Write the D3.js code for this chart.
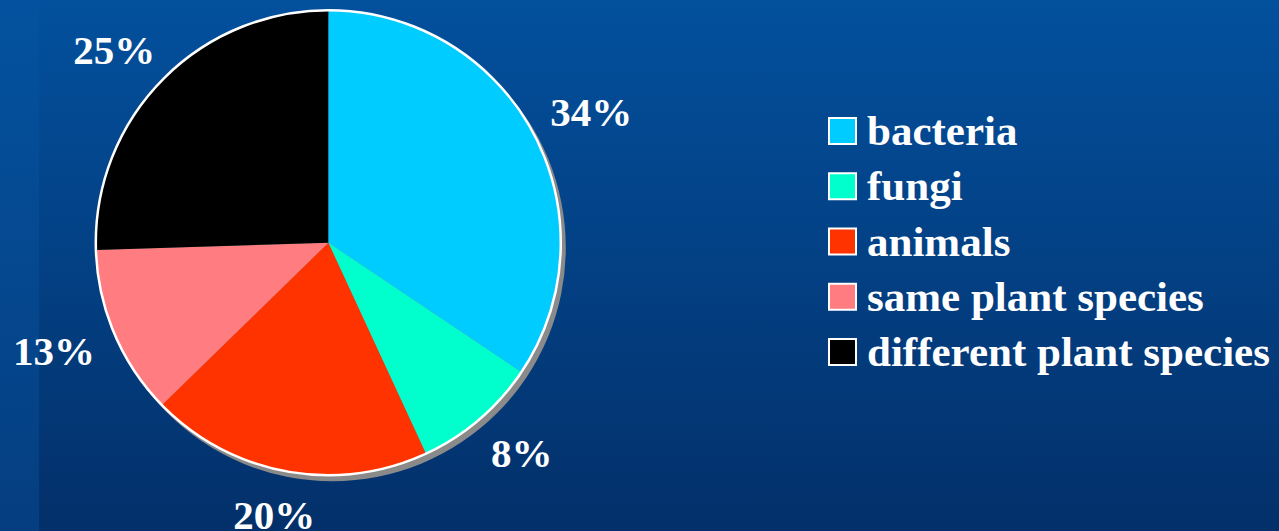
<!DOCTYPE html>
<html>
<head>
<meta charset="utf-8">
<script src="https://cdn.jsdelivr.net/npm/d3@7"></script>
<style>
  html, body { margin: 0; padding: 0; background: #033a78; }
  svg { display: block; }
</style>
</head>
<body>
<svg id="chart" width="1279" height="531"></svg>
<script>
// ---- data ----
const categories = ["bacteria", "fungi", "animals", "same plant species", "different plant species"];
const sliceValues = [34.4, 8.7, 19.6, 11.8, 25.5];      // angular shares
const labelTexts  = ["34%", "8%", "20%", "13%", "25%"]; // labels printed next to slices
const sliceColors = ["#00ccff", "#00ffcc", "#ff3300", "#ff7c80", "#000000"];

const W = 1279, H = 531;
const svg = d3.select("#chart");

// background gradients
const defs = svg.append("defs");
const g1 = defs.append("linearGradient").attr("id", "bg").attr("x1", 0).attr("y1", 0).attr("x2", 0).attr("y2", 1);
g1.append("stop").attr("offset", "0%").attr("stop-color", "#03509d");
g1.append("stop").attr("offset", "100%").attr("stop-color", "#03306a");
const g2 = defs.append("linearGradient").attr("id", "bgl").attr("x1", 0).attr("y1", 0).attr("x2", 0).attr("y2", 1);
g2.append("stop").attr("offset", "0%").attr("stop-color", "#04529f");
g2.append("stop").attr("offset", "100%").attr("stop-color", "#053e80");
svg.append("rect").attr("width", W).attr("height", H).attr("fill", "url(#bg)");
svg.append("rect").attr("width", 39).attr("height", H).attr("fill", "url(#bgl)");

// pie
const cx = 328.3, cy = 242.7, r = 232.5;
const pie = d3.pie().sort(null).value(d => d)(sliceValues);
const arc = d3.arc().innerRadius(0).outerRadius(r);

const g = svg.append("g").attr("transform", `translate(${cx},${cy})`);
// shadow
g.append("circle").attr("cx", 4).attr("cy", 5).attr("r", r + 1).attr("fill", "#8a8a8a");
g.selectAll("path.slice").data(pie).join("path")
  .attr("class", "slice")
  .attr("d", arc)
  .attr("fill", (d, i) => sliceColors[i]);
g.append("circle").attr("r", r).attr("fill", "none").attr("stroke", "#ffffff").attr("stroke-width", 2.5);

// labels outside slices (placed on an ellipse around the pie)
const labelRx = 298, labelRy = 277;
g.selectAll("text.lbl").data(pie).join("text")
  .attr("class", "lbl")
  .style("font", "bold 41px 'Liberation Serif', 'Times New Roman', serif")
  .attr("fill", "#ffffff")
  .attr("text-anchor", "middle")
  .attr("dominant-baseline", "central")
  .attr("x", d => labelRx * Math.sin((d.startAngle + d.endAngle) / 2))
  .attr("y", d => -labelRy * Math.cos((d.startAngle + d.endAngle) / 2))
  .text((d, i) => labelTexts[i]);

// legend
const legendY = d3.scalePoint().domain(categories).range([145, 366]);
const lg = svg.append("g");
const items = lg.selectAll("g").data(categories).join("g")
  .attr("transform", d => `translate(0,${legendY(d)})`);
items.append("rect")
  .attr("x", 829).attr("y", -27).attr("width", 27).attr("height", 26)
  .attr("fill", (d, i) => sliceColors[i])
  .attr("stroke", "#ffffff").attr("stroke-width", 2);
items.append("text")
  .attr("x", 867).attr("y", 0)
  .style("font", "bold 43px 'Liberation Serif', 'Times New Roman', serif")
  .attr("fill", "#ffffff")
  .text(d => d);
</script>
</body>
</html>
